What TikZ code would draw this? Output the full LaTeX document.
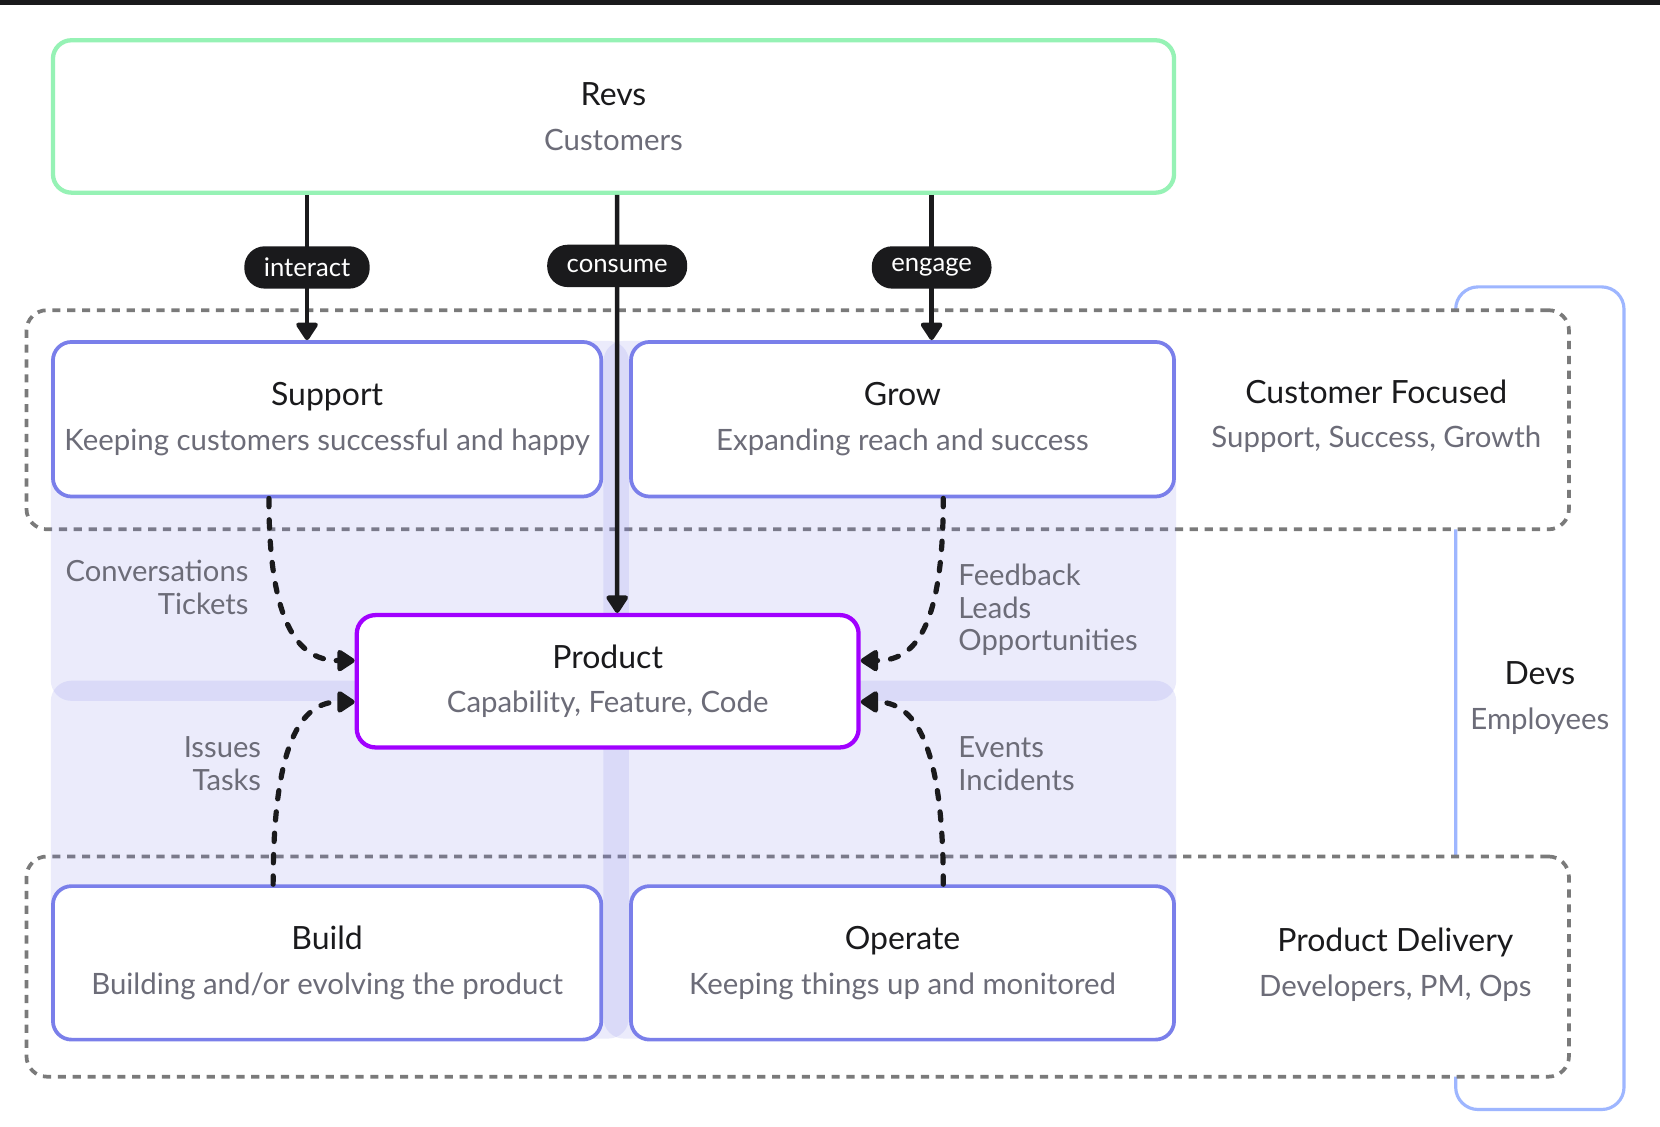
\documentclass[tikz,border=0pt]{standalone}
\usepackage{fontspec}
\setmainfont{Lato}
\usetikzlibrary{arrows.meta,positioning}

\definecolor{revgreen}{HTML}{96F2B5}
\definecolor{boxblue}{HTML}{7A7FEA}
\definecolor{prodpurple}{HTML}{A100FF}
\definecolor{devblue}{HTML}{9EB6FF}
\definecolor{dashgray}{HTML}{7A7A7A}
\definecolor{subgray}{HTML}{6C6C78}
\definecolor{inkblack}{HTML}{1A1A1C}

\def\u{0.02cm}
\newcommand{\cardtitle}{\fontsize{17.2}{24}\selectfont}
\newcommand{\cardsub}{\fontsize{15.8}{24}\selectfont}
\newcommand{\boxtext}[2]{{\cardtitle\color{inkblack}#1}\\{\color{subgray}#2}}

\tikzset{
  card/.style={draw=boxblue, line width=2pt, fill=white, rounded corners=10pt,
               align=center, font=\cardsub},
  zone/.style={draw=dashgray, line width=2pt, fill=white, rounded corners=11pt,
               dash pattern=on 4.4pt off 3.6pt},
  quad/.style={fill=boxblue, fill opacity=0.15, rounded corners=11pt},
  pill/.style={fill=inkblack, text=white, rounded corners=11pt, minimum height=40*\u,
               inner xsep=10.5pt, inner ysep=0pt, font=\fontsize{13.8}{16}\selectfont},
  flow/.style={draw=inkblack, line width=2.4pt, -{Triangle[width=13pt,length=10.5pt,round]}},
  feed/.style={draw=inkblack, line width=2.8pt, line cap=round, dash pattern=on 4.5pt off 7pt,
               -{Triangle[width=13pt,length=10.5pt,round]}},
  note/.style={text=subgray, inner sep=0pt, font=\fontsize{15.7}{17.6}\selectfont},
}

\begin{document}
\begin{tikzpicture}[x=\u, y=-\u]
    \path[use as bounding box, fill=white] (0,0) rectangle (1568,1064);
    \fill[inkblack] (0,0) rectangle (1568,5);

    %% devs frame behind the two teams
    \node[draw=devblue, line width=1.7pt, rounded corners=12pt, align=center, font=\cardsub,
          minimum width=159*\u, minimum height=777*\u] (devs) at (1454.5,659.5)
          {\boxtext{Devs}{Employees}};

    \node[zone, minimum width=1457*\u, minimum height=207*\u] (cf) at (753.5,396.5) {};
    \node[zone, minimum width=1457*\u, minimum height=208*\u] (pd) at (753.5,913)   {};

    %% four quadrants
    \fill[quad] (48,322)  rectangle (594,662);
    \fill[quad] (570,322) rectangle (1111,662);
    \fill[quad] (48,643)  rectangle (594,981);
    \fill[quad] (570,643) rectangle (1111,981);

    \node[card, draw=revgreen, line width=2.3pt, minimum width=1059*\u, minimum height=144*\u]
          (revs) at (579.5,110) {\boxtext{Revs}{Customers}};

    \node[card, minimum width=518*\u, minimum height=146*\u] (support) at (309,396)
          {\boxtext{Support}{Keeping customers successful and happy}};
    \node[card, minimum width=513*\u, minimum height=146*\u] (grow) at (852.5,396)
          {\boxtext{Grow}{Expanding reach and success}};
    \node[card, minimum width=518*\u, minimum height=145*\u] (build) at (309,909.5)
          {\boxtext{Build}{Building and/or evolving the product}};
    \node[card, minimum width=513*\u, minimum height=145*\u] (operate) at (852.5,909.5)
          {\boxtext{Operate}{Keeping things up and monitored}};
    \node[card, draw=prodpurple, line width=2.3pt, minimum width=474*\u, minimum height=125*\u]
          (product) at (574,643.5) {\boxtext{Product}{Capability, Feature, Code}};

    \node[align=center, font=\cardsub] (cflabel) at (1300,393)
          {\boxtext{Customer Focused}{Support, Success, Growth}};
    \node[align=center, font=\cardsub] (pdlabel) at (1318,911)
          {\boxtext{Product Delivery}{Developers, PM, Ops}};

    %% revs -> teams
    \draw[flow] ([xshift=-289.5*\u]revs.south) -- node[pill] {interact} ([xshift=-19*\u]support.north);
    \draw[flow] ([xshift=3.5*\u]revs.south) -- node[pill, pos=0.17] {consume} ([xshift=9*\u]product.north);
    \draw[flow] ([xshift=300.5*\u]revs.south) -- node[pill] {engage} ([xshift=27.5*\u]grow.north);

    %% teams -> product
    \draw[feed] ([xshift=-55*\u]support.south) .. controls +(0,125) and +(-50,0) .. ([yshift=19.5*\u]product.west);
    \draw[feed] ([xshift=38.5*\u]grow.south) .. controls +(0,125) and +(50,0) .. ([yshift=19.5*\u]product.east);
    \draw[feed] ([xshift=-51*\u]build.north) .. controls +(0,-135) and +(-50,0) .. ([yshift=-19.5*\u]product.west);
    \draw[feed] ([xshift=38.5*\u]operate.north) .. controls +(0,-135) and +(50,0) .. ([yshift=-19.5*\u]product.east);

    \node[note, anchor=east, align=right] (conv) at (235,555)   {Conversations\\Tickets};
    \node[note, anchor=east, align=right] (iss)  at (247,721.5) {Issues\\Tasks};
    \node[note, anchor=west, align=left]  (feed) at (905,576)   {Feedback\\Leads\\Opportunities};
    \node[note, anchor=west, align=left]  (evt)  at (905,721.5) {Events\\Incidents};

\end{tikzpicture}
\end{document}
